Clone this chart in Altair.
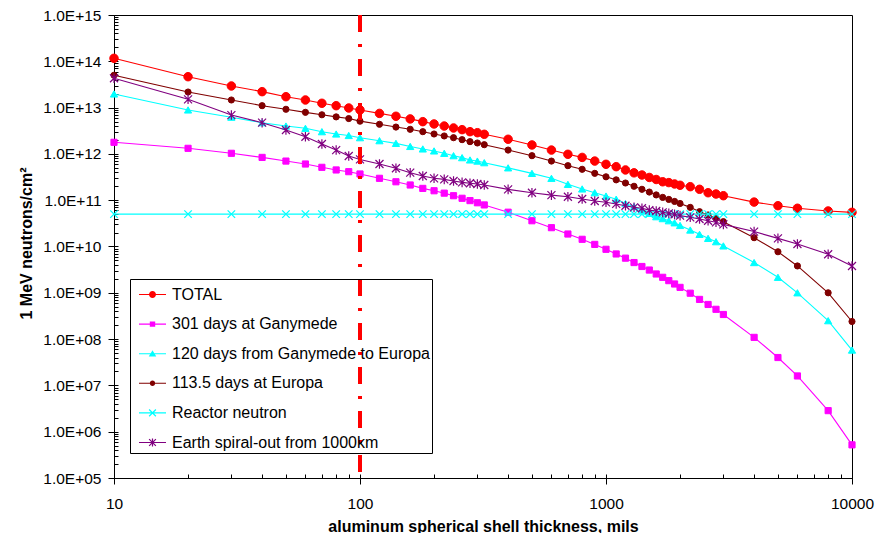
import altair as alt
import pandas as pd

# ---------------- data ----------------
thickness = [10, 20, 30, 40, 50, 60, 70, 80, 90, 100,
             120, 140, 160, 180, 200, 220, 240, 260, 280, 300, 320,
             400, 500, 600, 700, 800, 900, 1000,
             1100, 1200, 1300, 1400, 1500, 1600, 1700, 1800, 1900, 2000,
             2200, 2400, 2600, 2800, 3000,
             4000, 5000, 6000, 8000, 10000]

series_names = ["TOTAL", "301 days at Ganymede", "120 days from Ganymede to Europa",
                "113.5 days at Europa", "Reactor neutron", "Earth spiral-out from 1000km"]

total = [1.16e14, 4.65e13, 2.93e13, 2.21e13, 1.72e13, 1.46e13, 1.24e13, 1.1e13, 9.8e12, 8.9e12,
         7.5e12, 6.5e12, 5.7e12, 4.97e12, 4.43e12, 4.0e12, 3.63e12, 3.34e12, 3.02e12, 2.87e12, 2.65e12,
         2.07e12, 1.56e12, 1.21e12, 9.8e11, 8.4e11, 7.0e11, 5.96e11,
         5.3e11, 4.5e11, 3.9e11, 3.5e11, 3.1e11, 2.8e11, 2.5e11, 2.4e11, 2.24e11, 2.1e11,
         1.96e11, 1.72e11, 1.45e11, 1.36e11, 1.25e11,
         9.1e10, 7.6e10, 6.7e10, 5.85e10, 5.47e10]

ganymede = [1.78e12, 1.32e12, 1.03e12, 8.4e11, 7.0e11, 6.05e11, 5.13e11, 4.5e11, 4.13e11, 3.68e11,
            2.97e11, 2.5e11, 2.13e11, 1.8e11, 1.6e11, 1.42e11, 1.25e11, 1.1e11, 9.8e10, 8.8e10, 7.9e10,
            5.5e10, 3.6e10, 2.55e10, 1.86e10, 1.43e10, 1.11e10, 8.7e9,
            6.9e9, 5.6e9, 4.5e9, 3.7e9, 3.1e9, 2.55e9, 2.16e9, 1.83e9, 1.55e9, 1.31e9,
            9.8e8, 7.2e8, 5.6e8, 4.4e8, 3.4e8,
            1.09e8, 4.0e7, 1.6e7, 2.85e6, 5.2e5]

transfer = [1.97e13, 8.9e12, 6.2e12, 4.72e12, 4.0e12, 3.57e12, 3.02e12, 2.69e12, 2.5e12, 2.24e12,
            1.93e12, 1.69e12, 1.45e12, 1.28e12, 1.16e12, 1.03e12, 9.15e11, 8.3e11, 7.4e11, 7.0e11, 6.46e11,
            5.0e11, 3.8e11, 2.97e11, 2.2e11, 1.75e11, 1.45e11, 1.23e11,
            1.05e11, 8.5e10, 7.25e10, 6.1e10, 5.2e10, 4.4e10, 4.0e10, 3.6e10, 3.25e10, 2.85e10,
            2.27e10, 1.83e10, 1.5e10, 1.27e10, 1.03e10,
            4.5e9, 2.16e9, 1.0e9, 2.5e8, 5.8e7]

europa = [5.0e13, 2.17e13, 1.46e13, 1.1e13, 9.2e12, 7.9e12, 7.0e12, 6.3e12, 5.8e12, 5.1e12,
          4.36e12, 3.8e12, 3.4e12, 3.02e12, 2.69e12, 2.44e12, 2.24e12, 2.03e12, 1.84e12, 1.72e12, 1.58e12,
          1.21e12, 9.15e11, 7.0e11, 5.57e11, 4.65e11, 3.8e11, 3.2e11,
          2.75e11, 2.35e11, 2.0e11, 1.72e11, 1.5e11, 1.3e11, 1.15e11, 1.04e11, 9.4e10, 8.5e10,
          7.0e10, 5.65e10, 4.8e10, 4.06e10, 3.44e10,
          1.55e10, 7.7e9, 3.8e9, 1.0e9, 2.4e8]

reactor = [5.0e10] * len(thickness)

spiral = [4.3e13, 1.51e13, 6.9e12, 4.72e12, 3.28e12, 2.35e12, 1.64e12, 1.21e12, 9.0e11, 7.6e11,
          6.05e11, 4.9e11, 3.93e11, 3.33e11, 2.97e11, 2.82e11, 2.6e11, 2.43e11, 2.32e11, 2.24e11, 2.13e11,
          1.71e11, 1.45e11, 1.29e11, 1.19e11, 1.06e11, 9.6e10, 9.0e10,
          8.3e10, 7.6e10, 7.0e10, 6.7e10, 6.1e10, 5.85e10, 5.47e10, 5.2e10, 4.95e10, 4.64e10,
          4.27e10, 3.93e10, 3.6e10, 3.33e10, 3.0e10,
          2.1e10, 1.5e10, 1.13e10, 6.8e9, 3.8e9]

design_limit = [100]

x_major = [10, 100, 1000, 10000]
y_major = [1e5, 1e6, 1e7, 1e8, 1e9, 1e10, 1e11, 1e12, 1e13, 1e14, 1e15]

# ---------------- styles ----------------
series_colors = ["#FF0000", "#FF00FF", "#00FFFF", "#800000", "#00FFFF", "#800080"]
X_PATH = "M-1,-1L1,1M-1,1L1,-1"
AST_PATH = "M-1,-1L1,1M-1,1L1,-1M0,-1.2L0,1.2"
marker_shapes = ["circle", "square", "triangle-up", "circle", X_PATH, AST_PATH]
marker_sizes = [72, 38, 52, 38, 56, 64]
marker_strokes = [1, 1, 1, 1, 1.3, 1.2]


def _poly(pts):
    # make every sub-path clockwise on screen so that overlaps stay filled
    area = sum(pts[i][0] * pts[(i + 1) % len(pts)][1] - pts[(i + 1) % len(pts)][0] * pts[i][1]
               for i in range(len(pts)))
    if area < 0:
        pts = pts[::-1]
    return "M" + "L".join(f"{x:.3f},{y:.3f}" for x, y in pts) + "Z"


def _bar(x0, y0, x1, y1, hw):
    dx, dy = x1 - x0, y1 - y0
    ln = (dx * dx + dy * dy) ** 0.5
    nx, ny = -dy / ln * hw, dx / ln * hw
    return _poly([(x0 + nx, y0 + ny), (x1 + nx, y1 + ny), (x1 - nx, y1 - ny), (x0 - nx, y0 - ny)])


def _circ(r):
    return f"M{r},0A{r},{r},0,1,1,{-r},0A{r},{r},0,1,1,{r},0Z"


LINE = _bar(-1, 0, 1, 0, 0.04)
legend_shapes = [
    LINE + _circ(0.26),
    LINE + _poly([(-0.2, -0.2), (0.2, -0.2), (0.2, 0.2), (-0.2, 0.2)]),
    LINE + _poly([(0, -0.26), (0.28, 0.21), (-0.28, 0.21)]),
    LINE + _circ(0.2),
    LINE + _bar(-0.25, -0.25, 0.25, 0.25, 0.045) + _bar(-0.25, 0.25, 0.25, -0.25, 0.045),
    LINE + _bar(-0.25, -0.25, 0.25, 0.25, 0.045) + _bar(-0.25, 0.25, 0.25, -0.25, 0.045)
    + _bar(0, -0.3, 0, 0.3, 0.045),
]

x_minor = [k * 10 ** d for d in range(1, 4) for k in range(1, 10)] + [10000]
y_minor = [k * 10.0 ** d for d in range(5, 15) for k in range(1, 10)] + [1e15]

rows = []
for name, vals in zip(series_names, [total, ganymede, transfer, europa, reactor, spiral]):
    for xv, yv in zip(thickness, vals):
        rows.append({"series": name, "thickness": xv, "fluence": yv})
df = pd.DataFrame(rows)

W, H = 738, 463
FONT = "Liberation Sans"

xscale = alt.Scale(type="log", domain=[10, 10000], nice=False)
yscale = alt.Scale(type="log", domain=[1e5, 1e15], nice=False)

main_x_axis = alt.Axis(values=x_major, format="d", tickSize=6, labelPadding=12, labelFlush=False,
                       title="aluminum spherical shell thickness, mils",
                       titleY=53, titleBaseline="alphabetic")
main_y_axis = alt.Axis(values=y_major, tickSize=6, labelPadding=7, labelFlush=False,
                       labelExpr="'1.0E+' + (round(log(datum.value)/LN10) < 10 ? '0' : '') + round(log(datum.value)/LN10)",
                       title="1 MeV neutrons/cm²", titleX=-83, titleY=228,
                       titleBaseline="alphabetic")
minor_x_axis = alt.Axis(orient="top", offset=-H, values=x_minor, labels=False, domain=False,
                        tickSize=4, title=None)
minor_y_axis = alt.Axis(orient="right", offset=-W, values=y_minor, labels=False, domain=False,
                        tickSize=4, title=None)

layers = []
for i, (name, color, shape, size, sw) in enumerate(
        zip(series_names, series_colors, marker_shapes, marker_sizes, marker_strokes)):
    base = alt.Chart(df).transform_filter(alt.datum.series == name)
    ln = base.mark_line(strokeWidth=1.1, color=color).encode(
        x=alt.X("thickness:Q", scale=xscale, axis=main_x_axis if i == 0 else None),
        y=alt.Y("fluence:Q", scale=yscale, axis=main_y_axis if i == 0 else None),
    )
    pts = base.mark_point(
        filled=True, shape=shape, size=size, fill=color, stroke=color, strokeWidth=sw, opacity=1
    ).encode(
        x=alt.X("thickness:Q", scale=xscale, axis=minor_x_axis if i == 0 else None),
        y=alt.Y("fluence:Q", scale=yscale, axis=minor_y_axis if i == 0 else None),
    )
    layers += [ln, pts]

rule = alt.Chart(pd.DataFrame({"thickness": design_limit})).mark_rule(
    color="#FF0000", strokeWidth=4, strokeDash=[17, 12, 3, 12]
).encode(x=alt.X("thickness:Q", scale=xscale, axis=None))


def make_legend():
    return alt.Legend(
        title=None, orient="none", legendX=16, legendY=264,
        symbolSize=729, symbolStrokeWidth=0, symbolOffset=7,
        labelFont=FONT, labelFontSize=16, labelColor="black", labelOffset=6, labelLimit=500,
        padding=2, rowPadding=7.6, strokeColor="black", fillColor="transparent",
        cornerRadius=0, symbolOpacity=1,
    )


legend_layer = alt.Chart(pd.DataFrame({"series": series_names})).mark_point(
    filled=True, opacity=0
).encode(
    color=alt.Color("series:N", scale=alt.Scale(domain=series_names, range=series_colors),
                    legend=make_legend()),
    shape=alt.Shape("series:N", scale=alt.Scale(domain=series_names, range=legend_shapes),
                    legend=make_legend()),
)

chart = alt.layer(*layers, rule, legend_layer).resolve_axis(
    x="independent", y="independent"
).properties(
    width=W, height=H,
    autosize=alt.AutoSizeParams(type="none"),
    padding={"left": 106, "top": 7, "right": 28, "bottom": 55},
).configure_view(
    stroke="black", strokeWidth=1
).configure_axis(
    labelFont=FONT, labelFontSize=15.5, labelColor="black",
    titleFont=FONT, titleFontSize=16, titleFontWeight="bold", titleColor="black",
    domainColor="black", tickColor="black", grid=False,
)

chart.save("out.html", embed_options={"renderer": "svg", "actions": False})
